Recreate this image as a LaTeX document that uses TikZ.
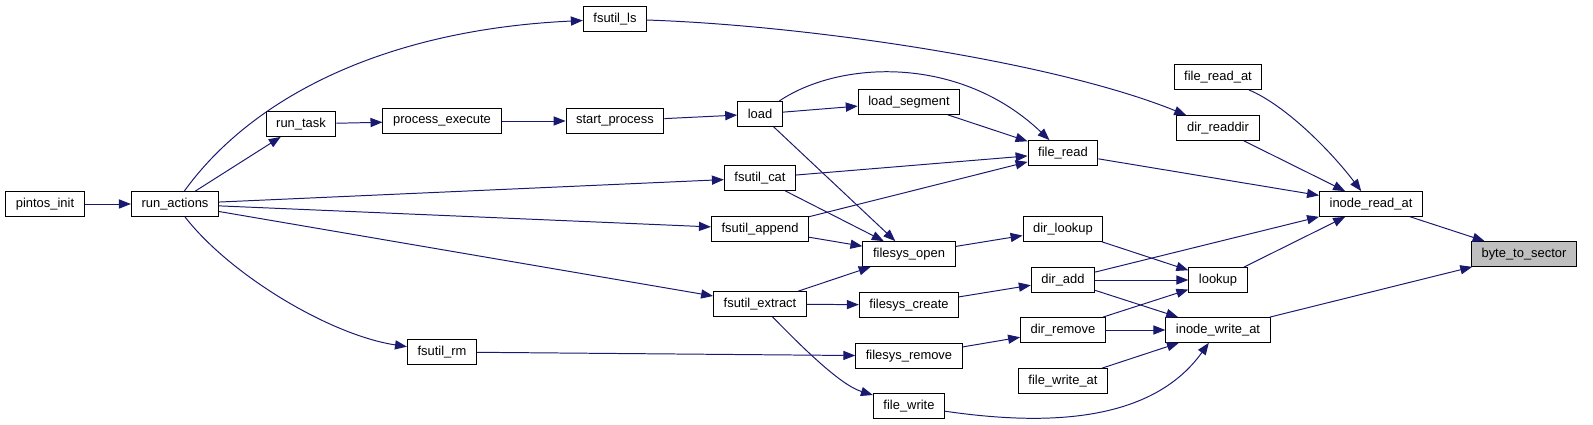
\documentclass[tikz,border=0pt]{standalone}
\usepackage{fontspec}
\setmainfont{Liberation Sans}
\usepackage{tikz}
\usetikzlibrary{arrows.meta}
\definecolor{callblue}{HTML}{191970}
\definecolor{focus}{HTML}{BFBFBF}

\begin{document}
\begin{tikzpicture}[x=0.025cm, y=-0.025cm,
    fn/.style={draw=black, line width=0.7pt, fill=white, rectangle, inner xsep=7.2pt, inner ysep=0pt, minimum height=17.6pt, font=\fontsize{9.2}{11}\selectfont},
    call/.style={-{Triangle[length=8.5pt, width=6.5pt]}, draw=callblue, line width=0.7pt}]
    \useasboundingbox (0,0) rectangle (1593,425);

    % Nodes
    \node [fn] (pintos) at (45,204) {pintos\_init};
    \node [fn] (actions) at (175,204) {run\_actions};
    \node [fn] (runtask) at (301,124) {run\_task};
    \node [fn] (exec) at (442,121) {process\_execute};
    \node [fn] (rm) at (442,352) {fsutil\_rm};
    \node [fn] (ls) at (615,19) {fsutil\_ls};
    \node [fn] (start) at (615,121) {start\_process};
    \node [fn] (load) at (760,114) {load};
    \node [fn] (cat) at (760,178) {fsutil\_cat};
    \node [fn] (append) at (760,229) {fsutil\_append};
    \node [fn] (extract) at (760,304) {fsutil\_extract};
    \node [fn] (segment) at (909,102) {load\_segment};
    \node [fn] (open) at (909,254) {filesys\_open};
    \node [fn] (create) at (909,305) {filesys\_create};
    \node [fn] (remove) at (909,356) {filesys\_remove};
    \node [fn] (fwrite) at (909,406) {file\_write};
    \node [fn] (fread) at (1063,153) {file\_read};
    \node [fn] (dlookup) at (1063,229) {dir\_lookup};
    \node [fn] (dadd) at (1063,280) {dir\_add};
    \node [fn] (dremove) at (1063,330) {dir\_remove};
    \node [fn] (fwriteat) at (1063,381) {file\_write\_at};
    \node [fn] (freadat) at (1218,77) {file\_read\_at};
    \node [fn] (readdir) at (1218,128) {dir\_readdir};
    \node [fn] (lookup) at (1218,280) {lookup};
    \node [fn] (iwrite) at (1218,330) {inode\_write\_at};
    \node [fn] (iread) at (1371,204) {inode\_read\_at};
    \node [fn, fill=focus] (sector) at (1524,254) {byte\_to\_sector};

    % Paths
    \draw[call] (pintos) -- (actions);
    \draw[call] (actions) .. controls (250,100) and (380,30) .. (ls);
    \draw[call] (actions) -- (runtask);
    \draw[call] (runtask) -- (exec);
    \draw[call] (exec) -- (start);
    \draw[call] (start) -- (load);
    \draw[call] (actions) -- (cat);
    \draw[call] (actions) -- (append);
    \draw[call] (actions) -- (extract);
    \draw[call] (actions) .. controls (230,275) and (330,335) .. (rm);
    \draw[call] (ls) .. controls (800,25) and (1050,60) .. (readdir);
    \draw[call] (load) -- (segment);
    \draw[call] (load) .. controls (840,60) and (960,55) .. (fread);
    \draw[call] (load) -- (open);
    \draw[call] (segment) -- (fread);
    \draw[call] (cat) -- (fread);
    \draw[call] (cat) -- (open);
    \draw[call] (append) -- (fread);
    \draw[call] (append) -- (open);
    \draw[call] (extract) -- (open);
    \draw[call] (extract) -- (create);
    \draw[call] (extract) .. controls (800,345) and (840,385) .. (fwrite);
    \draw[call] (rm) -- (remove);
    \draw[call] (open) -- (dlookup);
    \draw[call] (create) -- (dadd);
    \draw[call] (remove) -- (dremove);
    \draw[call] (fwrite) .. controls (1040,425) and (1150,425) .. (iwrite);
    \draw[call] (fread) -- (iread);
    \draw[call] (readdir) -- (iread);
    \draw[call] (freadat) .. controls (1285,105) and (1330,150) .. (iread);
    \draw[call] (dlookup) -- (lookup);
    \draw[call] (dadd) -- (iread);
    \draw[call] (dadd) -- (lookup);
    \draw[call] (dadd) -- (iwrite);
    \draw[call] (dremove) -- (lookup);
    \draw[call] (dremove) -- (iwrite);
    \draw[call] (fwriteat) -- (iwrite);
    \draw[call] (lookup) -- (iread);
    \draw[call] (iread) -- (sector);
    \draw[call] (iwrite) -- (sector);
\end{tikzpicture}
\end{document}
